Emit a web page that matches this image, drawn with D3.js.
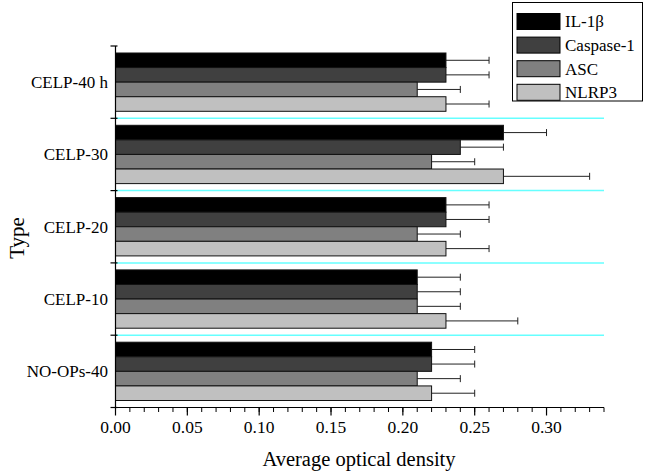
<!DOCTYPE html>
<html>
<head>
<meta charset="utf-8">
<script src="https://cdn.jsdelivr.net/npm/d3@7"></script>
<style>
body { margin: 0; background: #fff; }
text { font-family: "Liberation Serif", "Times New Roman", serif; fill: #000; }
</style>
</head>
<body>
<svg id="chart" width="646" height="475"></svg>
<script>
// categories top to bottom
var types = ["CELP-40 h", "CELP-30", "CELP-20", "CELP-10", "NO-OPs-40"];
var seriesNames = ["IL-1\u03b2", "Caspase-1", "ASC", "NLRP3"];
var seriesColors = ["#000000", "#404040", "#808080", "#c0c0c0"];
// mean values, one list per series, in the order of types
var il1b     = [0.23, 0.27, 0.23, 0.21, 0.22];
var caspase1 = [0.23, 0.24, 0.23, 0.21, 0.22];
var asc      = [0.21, 0.22, 0.21, 0.21, 0.21];
var nlrp3    = [0.23, 0.27, 0.23, 0.23, 0.22];
// error bar sizes
var il1bErr     = [0.03, 0.03, 0.03, 0.03, 0.03];
var caspase1Err = [0.03, 0.03, 0.03, 0.03, 0.03];
var ascErr      = [0.03, 0.03, 0.03, 0.03, 0.03];
var nlrp3Err    = [0.03, 0.06, 0.03, 0.05, 0.03];
var xTicks = [0, 0.05, 0.10, 0.15, 0.20, 0.25, 0.30];

var values = [il1b, caspase1, asc, nlrp3];
var errs = [il1bErr, caspase1Err, ascErr, nlrp3Err];

var svg = d3.select("#chart");
var mLeft = 115.5, mRight = 604, mTop = 46, mBottom = 407.5;

var x = d3.scaleLinear().domain([0, 0.34]).range([mLeft, mRight]);
var y = d3.scaleBand().domain(types).range([mTop, mBottom]).paddingInner(0).paddingOuter(0);
var ySub = d3.scaleBand().domain(d3.range(seriesNames.length)).range([0, y.bandwidth()]).paddingOuter(0.48).paddingInner(0);

// cyan separators between groups
svg.selectAll(".sep")
    .data(types.slice(1))
    .enter()
    .append("line")
    .attr("x1", mLeft)
    .attr("x2", mRight)
    .attr("y1", d => y(d))
    .attr("y2", d => y(d))
    .style("stroke", "#66ffff")
    .style("stroke-width", 1.5);

var bars = [];
types.forEach(function(t, i) {
    seriesNames.forEach(function(s, j) {
        bars.push({ type: t, s: j, v: values[j][i], e: errs[j][i] });
    });
});

// error bars
var eb = svg.selectAll(".err")
    .data(bars)
    .enter()
    .append("g")
    .attr("class", "err");
eb.append("line")
    .attr("x1", d => x(d.v))
    .attr("x2", d => x(d.v + d.e))
    .attr("y1", d => y(d.type) + ySub(d.s) + ySub.bandwidth() / 2)
    .attr("y2", d => y(d.type) + ySub(d.s) + ySub.bandwidth() / 2)
    .style("stroke", "#222")
    .style("stroke-width", 1);
eb.append("line")
    .attr("x1", d => x(d.v + d.e))
    .attr("x2", d => x(d.v + d.e))
    .attr("y1", d => y(d.type) + ySub(d.s) + ySub.bandwidth() / 2 - 3.5)
    .attr("y2", d => y(d.type) + ySub(d.s) + ySub.bandwidth() / 2 + 3.5)
    .style("stroke", "#222")
    .style("stroke-width", 1);

svg.selectAll(".bar")
    .data(bars)
    .enter()
    .append("rect")
    .attr("class", "bar")
    .attr("x", x(0))
    .attr("y", d => y(d.type) + ySub(d.s))
    .attr("width", d => x(d.v) - x(0))
    .attr("height", ySub.bandwidth())
    .style("fill", d => seriesColors[d.s])
    .style("stroke", "#111")
    .style("stroke-width", 1);

// x axis with minor ticks
var xAxis = svg.append("g").attr("transform", "translate(0," + mBottom + ")");
xAxis.append("line").attr("x1", mLeft).attr("x2", mRight).style("stroke", "#000").style("stroke-width", 1.2);
xAxis.selectAll(".minor")
    .data(d3.range(0, 35).map(d => d / 100))
    .enter()
    .append("line")
    .attr("x1", d => x(d))
    .attr("x2", d => x(d))
    .attr("y1", 0)
    .attr("y2", 4.5)
    .style("stroke", "#000");
xAxis.selectAll(".major")
    .data(xTicks)
    .enter()
    .append("line")
    .attr("x1", d => x(d))
    .attr("x2", d => x(d))
    .attr("y1", 0)
    .attr("y2", 8)
    .style("stroke", "#000")
    .style("stroke-width", 1.2);
xAxis.selectAll(".lab")
    .data(xTicks)
    .enter()
    .append("text")
    .attr("x", d => x(d))
    .attr("y", 25)
    .attr("text-anchor", "middle")
    .style("font-size", "17.5px")
    .text(d => d3.format(".2f")(d));

// y axis
var yAxis = svg.append("g");
yAxis.append("line").attr("x1", mLeft).attr("x2", mLeft).attr("y1", mTop).attr("y2", mBottom).style("stroke", "#000").style("stroke-width", 1.2);
yAxis.selectAll(".tk")
    .data(types.map(t => y(t)).concat([mBottom]))
    .enter()
    .append("line")
    .attr("x1", mLeft - 5)
    .attr("x2", mLeft + 2)
    .attr("y1", d => d)
    .attr("y2", d => d)
    .style("stroke", "#000")
    .style("stroke-width", 1.2);
yAxis.selectAll(".lab")
    .data(types)
    .enter()
    .append("text")
    .attr("x", 108)
    .attr("y", d => y(d) + y.bandwidth() / 2)
    .attr("dy", "0.35em")
    .attr("text-anchor", "end")
    .style("font-size", "17px")
    .text(d => d);

svg.append("text")
    .attr("x", 359)
    .attr("y", 466)
    .attr("text-anchor", "middle")
    .style("font-size", "20.5px")
    .text("Average optical density");
svg.append("text")
    .attr("transform", "translate(24,238) rotate(-90)")
    .attr("text-anchor", "middle")
    .style("font-size", "21px")
    .text("Type");

// legend
var lg = svg.append("g");
lg.append("rect")
    .attr("x", 512.5).attr("y", 2.5).attr("width", 130).attr("height", 98.5)
    .style("fill", "#fff").style("stroke", "#000").style("stroke-width", 1);
var items = lg.selectAll(".item")
    .data(seriesNames)
    .enter()
    .append("g")
    .attr("transform", (d, i) => "translate(0," + (21.5 + i * 23.6) + ")");
items.append("rect")
    .attr("x", 517).attr("y", -8).attr("width", 43).attr("height", 16)
    .style("fill", (d, i) => seriesColors[i])
    .style("stroke", "#000").style("stroke-width", 1);
items.append("text")
    .attr("x", 565)
    .attr("y", 0)
    .attr("dy", "0.35em")
    .style("font-size", "17px")
    .text(d => d);
</script>
</body>
</html>
